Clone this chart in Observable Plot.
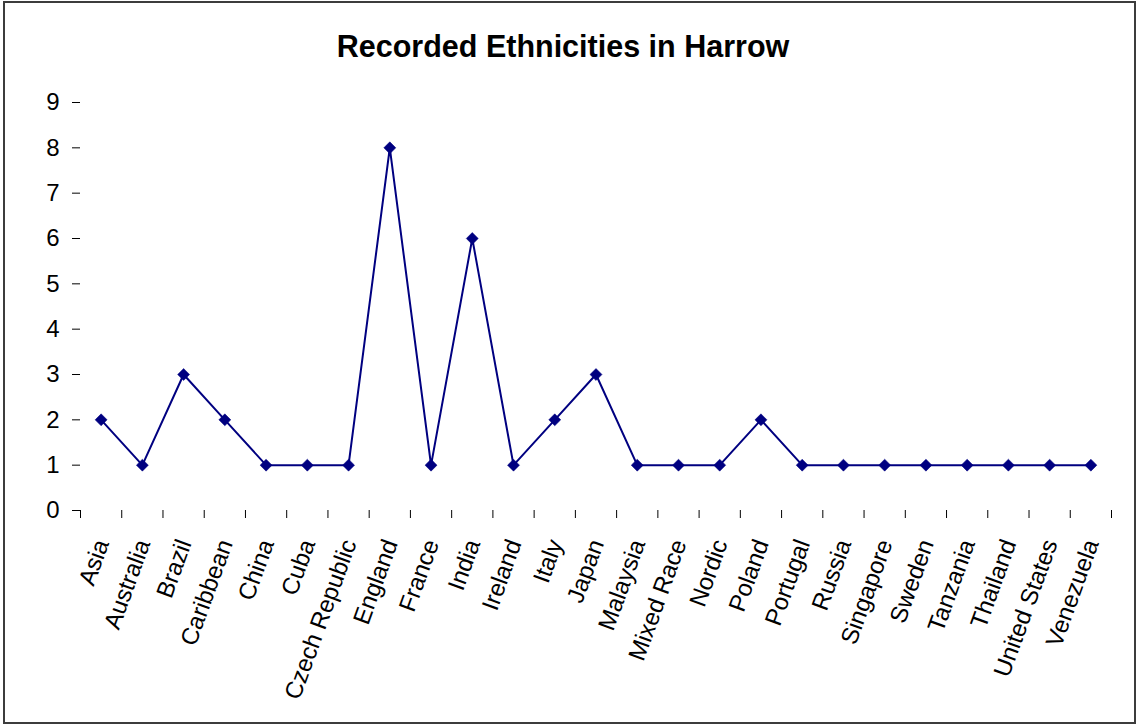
<!DOCTYPE html>
<html>
<head>
<meta charset="utf-8">
<script src="https://cdn.jsdelivr.net/npm/d3@7"></script>
<script src="https://cdn.jsdelivr.net/npm/@observablehq/plot@0.6"></script>
<style>
  html, body { margin: 0; padding: 0; background: #fff; }
  #wrap { position: relative; width: 1136px; height: 725px; overflow: hidden; font-family: "Liberation Sans", Arial, sans-serif; }
  #frame { position: absolute; left: 3px; top: 1px; width: 1133px; height: 723px; box-sizing: border-box; border: 2px solid #3c3c3c; pointer-events: none; }
  #title { position: absolute; left: 0; top: 0; width: 1126px; height: 80px; text-align: center; font-weight: bold; font-size: 30.5px; line-height: 92px; color: #000; }
  #chart { position: absolute; left: 0; top: 80px; }
</style>
</head>
<body>
<div id="wrap">
  <div id="title">Recorded Ethnicities in Harrow</div>
  <div id="chart"></div>
  <div id="frame"></div>
</div>
<script>
const categories = ["Asia", "Australia", "Brazil", "Caribbean", "China", "Cuba", "Czech Republic", "England", "France", "India", "Ireland", "Italy", "Japan", "Malaysia", "Mixed Race", "Nordic", "Poland", "Portugal", "Russia", "Singapore", "Sweden", "Tanzania", "Thailand", "United States", "Venezuela"];
const counts = [2, 1, 3, 2, 1, 1, 1, 8, 1, 6, 1, 2, 3, 1, 1, 1, 2, 1, 1, 1, 1, 1, 1, 1, 1];
const yTicks = [0, 1, 2, 3, 4, 5, 6, 7, 8, 9];

const data = categories.map((c, i) => ({category: c, index: i, count: counts[i]}));
// category boundaries (between bands) for the x tick marks
const boundaries = d3.range(categories.length + 1).map(i => i - 0.5);

const navy = "#000080";
const chart = Plot.plot({
  width: 1136,
  height: 645,
  marginLeft: 80,
  marginRight: 25,
  marginTop: 22,
  marginBottom: 215,
  style: {fontFamily: "Liberation Sans, Arial, sans-serif", fontSize: "24px", color: "#000", background: "transparent"},
  x: {type: "linear", domain: [-0.5, categories.length - 0.5]},
  y: {domain: [0, 9]},
  marks: [
    Plot.axisY({ticks: yTicks, tickSize: 8, tickFormat: () => "", line: true, label: null, stroke: "#000", strokeOpacity: 1}),
    Plot.text(yTicks, {y: d => d, text: d => String(d), frameAnchor: "left", textAnchor: "end", lineAnchor: "middle", dx: -21, fontSize: 24, fill: "#000"}),
    Plot.axisX({ticks: boundaries, tickSize: 8, tickFormat: () => "", line: true, label: null, stroke: "#000", strokeOpacity: 1}),
    Plot.text(data, {x: "index", text: "category", frameAnchor: "bottom", rotate: -70, textAnchor: "end", lineAnchor: "middle", dx: 1, dy: 30, fontSize: 24, fill: "#000"}),
    Plot.line(data, {x: "index", y: "count", stroke: navy, strokeWidth: 2}),
    Plot.dot(data, {x: "index", y: "count", symbol: "diamond2", r: 5.4, fill: navy, stroke: navy, strokeWidth: 0.5})
  ]
});
document.getElementById("chart").appendChild(chart);
</script>
</body>
</html>
